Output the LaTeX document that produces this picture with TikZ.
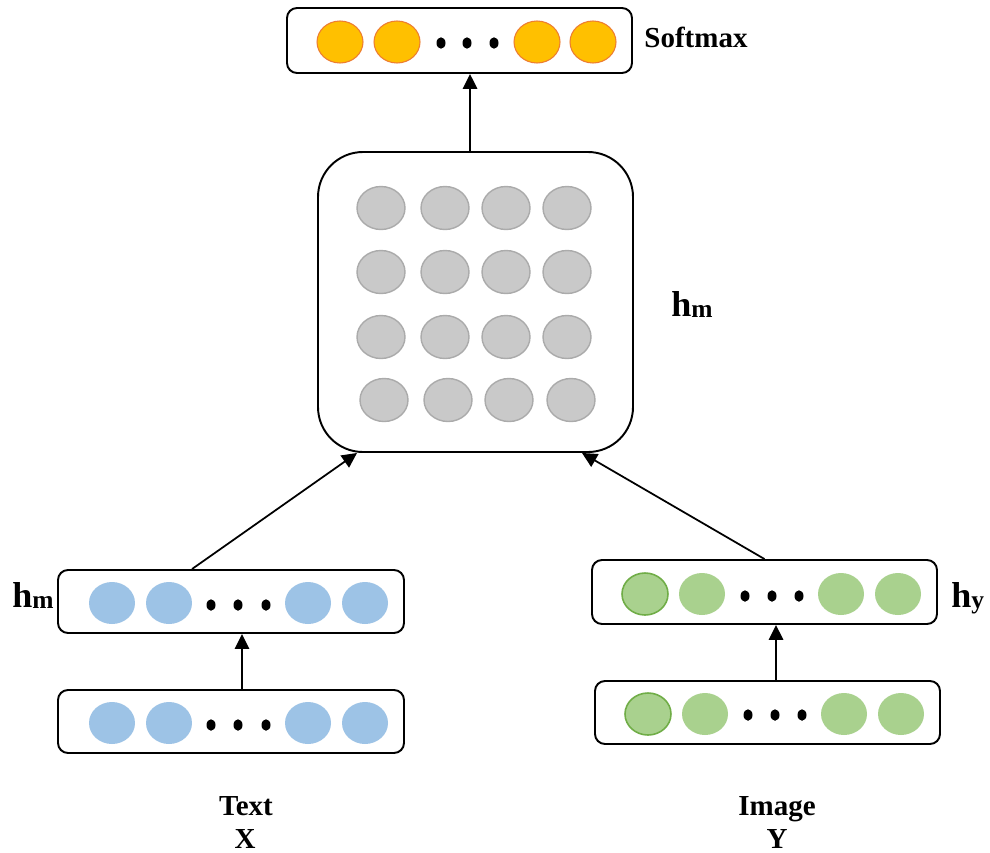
\documentclass[tikz,border=0pt]{standalone}
\usepackage{fontspec}
\setmainfont{Liberation Serif}
\usetikzlibrary{fit,arrows.meta}

\definecolor{softfill}{HTML}{FFC000}
\definecolor{softedge}{HTML}{ED7D31}
\definecolor{fusefill}{HTML}{C9C9C9}
\definecolor{fuseedge}{HTML}{ABABAB}
\definecolor{textfill}{HTML}{9DC3E6}
\definecolor{imgfill}{HTML}{A9D18E}
\definecolor{imgedge}{HTML}{70AD47}

\tikzset{
  layer/.style={draw=black, line width=1.1pt, rounded corners=0.2cm, inner sep=0pt, fill=white},
  fusebox/.style={layer, rounded corners=0.9cm},
  link/.style={line width=1pt, -{Triangle[length=0.3cm,width=0.29cm]}},
  softunit/.style={fill=softfill, draw=softedge, line width=0.6pt},
  fuseunit/.style={fill=fusefill, draw=fuseedge, line width=0.8pt},
  textunit/.style={fill=textfill},
  imgunit/.style={fill=imgfill},
  imgfirst/.style={fill=imgfill, draw=imgedge, line width=0.9pt},
  caption/.style={font=\bfseries\fontsize{16.5}{18}\selectfont, inner sep=0pt},
  hlabel/.style={font=\bfseries\fontsize{20.5}{22}\selectfont, inner sep=0pt},
  unitsize/.style={x radius=0.46cm, y radius=0.42cm},
  dotsize/.style={x radius=0.09cm, y radius=0.115cm}
}
\newcommand\subidx[1]{\raisebox{-1.1pt}{\fontsize{14.5}{16}\selectfont #1}}

\begin{document}
\begin{tikzpicture}[x=0.02cm, y=-0.02cm]
\useasboundingbox (0,0) rectangle (990,852);

% layer boxes
\node[layer, fit={(287,8) (632,73)}] (soft) {};
\node[fusebox, fit={(318,152) (633,452)}] (fuse) {};
\node[layer, fit={(58,570) (404,633)}] (txt1) {};
\node[layer, fit={(58,690) (404,753)}] (txt0) {};
\node[layer, fit={(592,560) (937,624)}] (img1) {};
\node[layer, fit={(595,681) (940,744)}] (img0) {};

% softmax units
\foreach \x in {340,397,537,593}
  \path[softunit] (\x,42) ellipse [unitsize];
\foreach \x in {441,467,494}
  \fill (\x,43) ellipse [dotsize];

% fused representation grid
\foreach \y in {208,272,337}
  \foreach \x in {381,445,506,567}
    \path[fuseunit] (\x,\y) ellipse [x radius=0.48cm, y radius=0.43cm];
\foreach \x in {384,448,509,571}
  \path[fuseunit] (\x,400) ellipse [x radius=0.48cm, y radius=0.43cm];

% text branch units
\foreach \y/\d in {603/605,723/725}{
  \foreach \x in {112,169,308,365}
    \path[textunit] (\x,\y) ellipse [unitsize];
  \foreach \x in {211,238,266}
    \fill (\x,\d) ellipse [dotsize];
}

% image branch units
\foreach \o/\y/\d in {0/594/596,3/714/715}{
  \path[imgfirst] (645+\o,\y) ellipse [unitsize];
  \foreach \x in {702,841,898}
    \path[imgunit] (\x+\o,\y) ellipse [unitsize];
  \foreach \x in {745,772,799}
    \fill (\x+\o,\d) ellipse [dotsize];
}

% connections
\draw[link] ([xshift=-0.11cm]fuse.north) -- ([xshift=-0.11cm]fuse.north |- soft.south);
\draw[link] ([xshift=0.22cm]txt0.north) -- ([xshift=0.22cm]txt1.south);
\draw[link] ([xshift=0.17cm]img0.north) -- ([xshift=0.17cm]img0.north |- img1.south);
\draw[link] ([xshift=-0.78cm]txt1.north) -- ([xshift=-2.37cm]fuse.south);
\draw[link] (img1.north) -- ([xshift=2.13cm]fuse.south);

% labels
\node[caption, anchor=base] (softlbl) at (696,47) {Softmax};
\node[hlabel, anchor=base west] (hmfuse) at (671,316) {h\subidx{m}};
\node[hlabel, anchor=base west] (hmtext) at (12,607) {h\subidx{m}};
\node[hlabel, anchor=base west] (hyimg) at (951,607) {h\subidx{y}};
\node[caption, anchor=base] (textlbl) at (246,815) {Text};
\node[caption, anchor=base] (xlbl) at (245,848) {X};
\node[caption, anchor=base] (imglbl) at (777,815) {Image};
\node[caption, anchor=base] (ylbl) at (777,848) {Y};
\end{tikzpicture}
\end{document}
